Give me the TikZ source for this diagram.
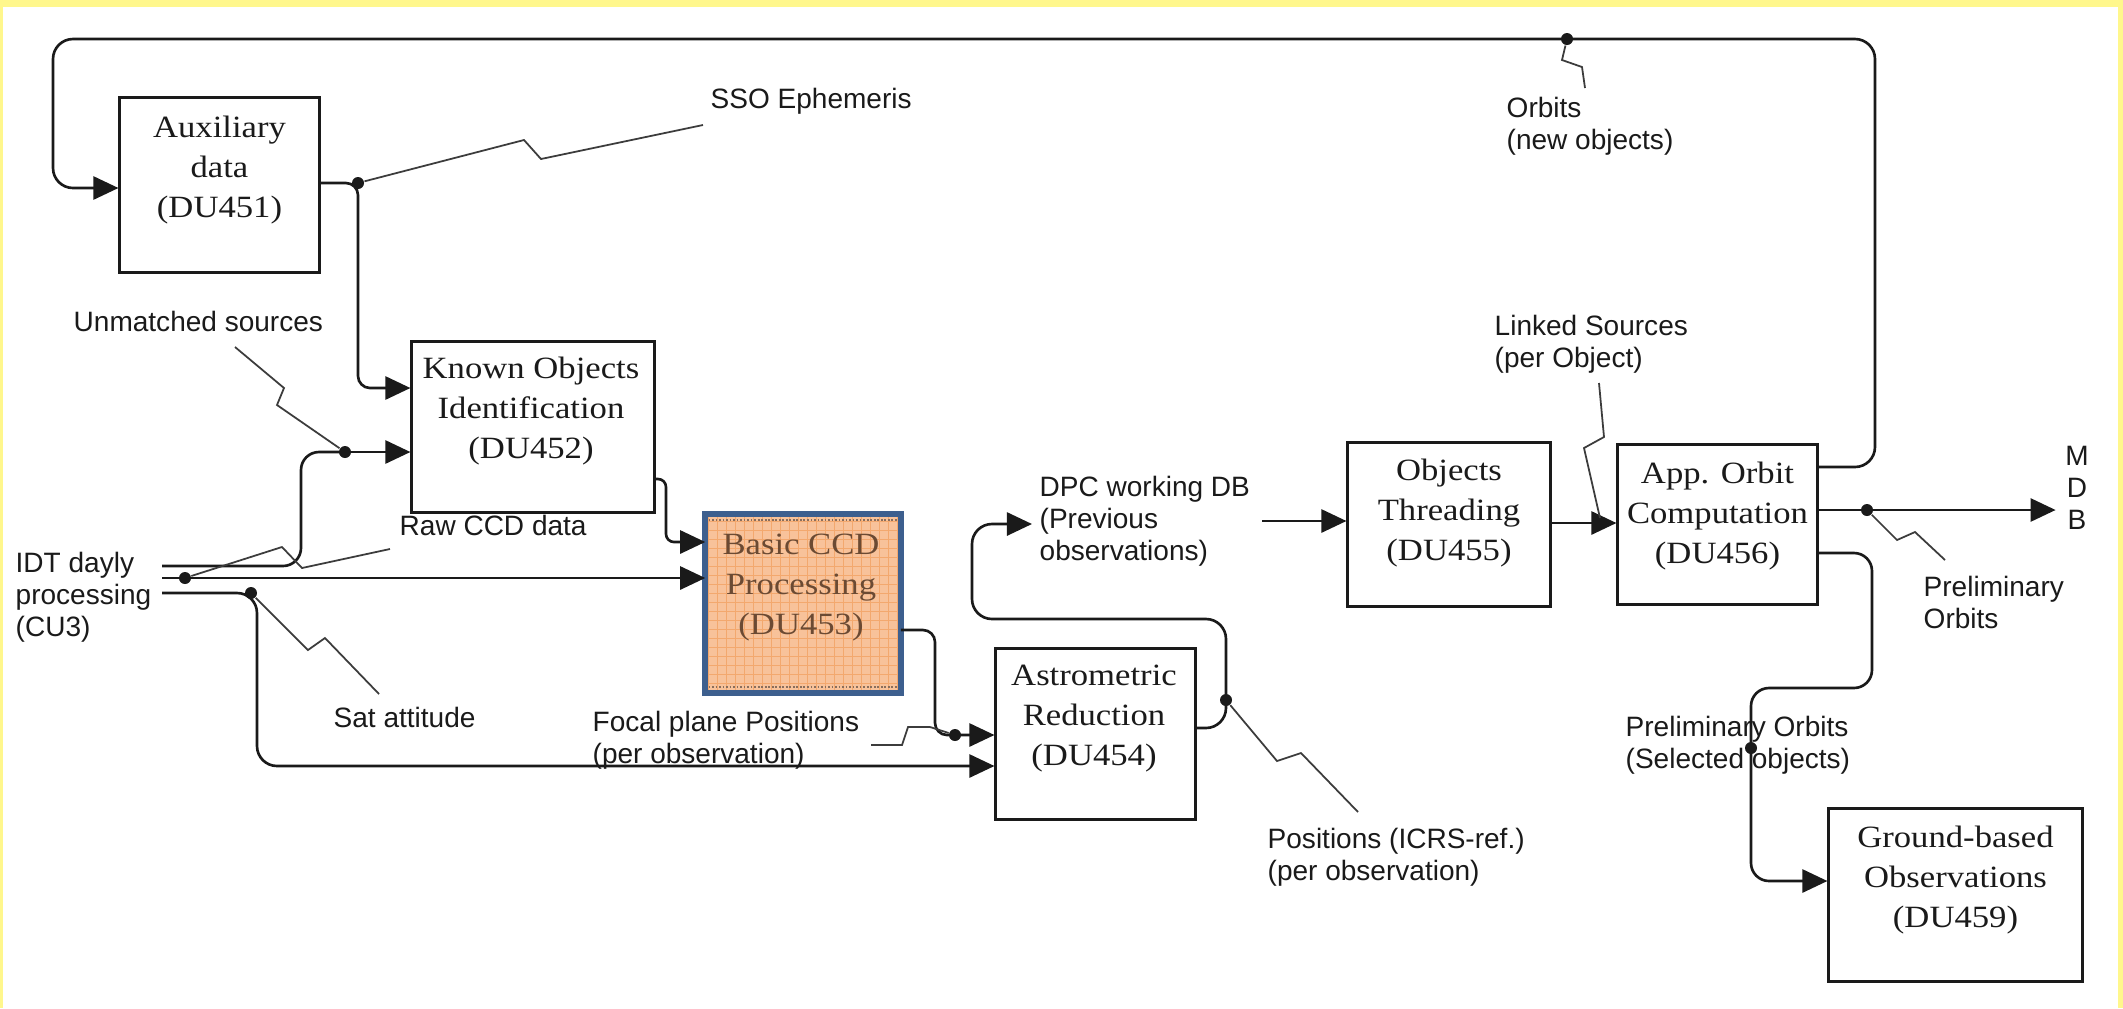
\documentclass[tikz,border=0pt]{standalone}
\usepackage{fontspec}
\setmainfont{Liberation Serif}[FakeStretch=1.12]
\newfontfamily\lblfont{Liberation Sans}
\usetikzlibrary{arrows.meta}

\definecolor{ink}{HTML}{1A1A1A}
\definecolor{ccdfill}{HTML}{F8C29A}
\definecolor{ccdgrid}{HTML}{F3A86E}
\definecolor{ccdedge}{HTML}{3D5F8E}
\definecolor{ccdtext}{HTML}{6B4A33}
\definecolor{rim}{HTML}{FFF78C}

\begin{document}
\begin{tikzpicture}[x=0.01cm,y=-0.01cm,
  unit/.style={draw=ink, line width=0.85pt, fill=white, inner sep=0pt},
  unittext/.style={font=\fontsize{8.8}{11.38}\selectfont, align=center, inner sep=0pt, text=ink},
  lbl/.style={font=\lblfont\fontsize{7.97}{9.1}\selectfont, align=left, inner sep=0pt, anchor=west, text=ink},
  flow/.style={draw=ink, line width=0.75pt, -{Triangle[length=0.25cm,width=0.23cm]}},
  wire/.style={draw=ink, line width=0.75pt},
  bolt/.style={draw=ink!85, line width=0.5pt},
  joint/.style={circle, fill=ink, inner sep=0pt, minimum size=0.12cm},
]
% page, with its thin yellow rim
\fill[white] (0,0) rectangle (2123,1008);
\fill[rim] (0,0) rectangle (2123,7);
\fill[rim] (0,0) rectangle (3,1008);
\fill[rim] (2118,0) rectangle (2123,1008);
\useasboundingbox (0,0) rectangle (2123,1008);

% processing units
\node[unit, minimum width=1.99cm, minimum height=1.74cm] (aux) at (219.5,185) {};
\node[unit, minimum width=2.42cm, minimum height=1.70cm] (known) at (533,427) {};
\node[inner sep=0pt, minimum width=1.94cm, minimum height=1.77cm] (basic) at (803,603.5) {};
\node[unit, minimum width=1.99cm, minimum height=1.70cm] (astro) at (1095.5,734) {};
\node[unit, minimum width=2.02cm, minimum height=1.63cm] (thread) at (1449,524.5) {};
\node[unit, minimum width=1.99cm, minimum height=1.59cm] (orbit) at (1717.5,524.5) {};
\node[unit, minimum width=2.53cm, minimum height=1.72cm] (ground) at (1955.5,895) {};

% highlighted unit: orange grid fill, blue edge
\fill[ccdfill] (basic.south west) rectangle (basic.north east);
\begin{scope}
  \clip (basic.south west) rectangle (basic.north east);
  \foreach \gx in {708,717,...,900} \draw[ccdgrid, line width=0.25pt] (\gx,513) -- (\gx,695);
  \foreach \gy in {521,530,...,690} \draw[ccdgrid, line width=0.25pt] (705,\gy) -- (903,\gy);
  \draw[ccdtext!80, line width=0.7pt, dash pattern=on 0.5pt off 0.5pt] (705,520) -- (903,520);
  \draw[ccdtext!80, line width=0.7pt, dash pattern=on 0.5pt off 0.5pt] (705,687) -- (903,687);
\end{scope}
\draw[ccdedge, line width=1.7pt] (basic.south west) rectangle (basic.north east);

% unit captions
\node[unittext] (auxT) at (219.5,170) {Auxiliary\\data\\(DU451)};
\node[unittext] (knownT) at (531,411) {Known Objects\\Identification\\(DU452)};
\node[unittext, text=ccdtext] (basicT) at (801,588) {Basic CCD\\Processing\\(DU453)};
\node[unittext] (astroT) at (1094,719) {Astrometric\\Reduction\\(DU454)};
\node[unittext] (threadT) at (1449,513) {Objects\\Threading\\(DU455)};
\node[unittext] (orbitT) at (1717.5,516) {App. Orbit\\Computation\\(DU456)};
\node[unittext] (groundT) at (1955.5,880) {Ground-based\\Observations\\(DU459)};

% data labels
\node[lbl] (sso) at (710,101) {SSO Ephemeris};
\node[lbl] (unm) at (73,321) {Unmatched sources};
\node[lbl] (raw) at (399,525) {Raw CCD data};
\node[lbl] (idt) at (15,597) {IDT dayly\\processing\\(CU3)};
\node[lbl] (sat) at (333,717) {Sat attitude};
\node[lbl] (focal) at (592,740) {Focal plane Positions\\(per observation)};
\node[lbl] (dpc) at (1039,521) {DPC working DB\\(Previous\\observations)};
\node[lbl] (icrs) at (1267,857) {Positions (ICRS-ref.)\\(per observation)};
\node[lbl] (newob) at (1506,126) {Orbits\\(new objects)};
\node[lbl] (linked) at (1494,344) {Linked Sources\\(per Object)};
\node[lbl] (prelim) at (1923,602) {Preliminary\\Orbits};
\node[lbl] (selected) at (1625,745) {Preliminary Orbits\\(Selected objects)};
\node[lbl, anchor=center, align=center] (mdb) at (2077,488) {M\\D\\B};

% junction dots
\node[joint] (jA) at (358,183) {};
\node[joint] (jU) at (345,452) {};
\node[joint] (jR) at (185,578) {};
\node[joint] (jS) at (251,593) {};
\node[joint] (jF) at (955,735) {};
\node[joint] (jP) at (1226,700) {};
\node[joint] (jO) at (1567,39) {};
\node[joint] (jM) at (1867,510) {};
\node[joint] (jG) at (1751,748) {};

% loose line ends
\coordinate (idt1) at (162,566);
\coordinate (idt2) at (162,578);
\coordinate (idt3) at (162,593);
\coordinate (dpcout) at (1262,521);

% data flows
\draw[flow, rounded corners=0.2cm] (orbit.east |- 0,467) -- (1875,467) -- (1875,39) -- (53,39) -- (53,188) -- (aux.west |- 0,188);
\draw[flow, rounded corners=0.12cm] (aux.east |- 0,183) -- (jA.center) -- (358,388) -- (known.west |- 0,388);
\draw[flow] (jU.center) -- (known.west |- 0,452);
\draw[wire, rounded corners=0.18cm] (idt1) -- (301,566) -- (301,452) -- (jU.center);
\draw[flow] (idt2) -- (basic.west |- 0,578);
\draw[flow, rounded corners=0.2cm] (idt3) -- (257,593) -- (257,766) -- (astro.west |- 0,766);
\draw[flow, rounded corners=0.08cm] (known.east |- 0,479) -- (666,479) -- (666,542) -- (basic.west |- 0,542);
\draw[flow, rounded corners=0.12cm] (basic.east |- 0,630) -- (935,630) -- (935,735) -- (astro.west |- 0,735);
\draw[flow, rounded corners=0.2cm, shorten >=0.07cm] (astro.east |- 0,728) -- (1226,728) -- (1226,619) -- (972,619) -- (972,524) -- (dpc.west |- 0,524);
\draw[flow] (dpcout) -- (thread.west |- 0,521);
\draw[flow] (thread.east |- 0,523) -- (orbit.west |- 0,523);
\draw[flow, shorten >=0.09cm] (orbit.east |- 0,510) -- (mdb.west |- 0,510);
\draw[flow, rounded corners=0.18cm] (orbit.east |- 0,553) -- (1872,553) -- (1872,688) -- (1751,688) -- (1751,881) -- (ground.west |- 0,881);

% label leaders
\draw[bolt] (jA) -- (524,140) -- (541,159) -- (703,125);
\draw[bolt] (235,347) -- (284,388) -- (277,405) -- (jU);
\draw[bolt] (jR) -- (282,547) -- (302,568) -- (390,549);
\draw[bolt] (jS) -- (308,650) -- (325,638) -- (379,694);
\draw[bolt] (871,745) -- (902,745) -- (908,727) -- (930,727) -- (jF);
\draw[bolt] (jP) -- (1277,761) -- (1301,753) -- (1358,812);
\draw[bolt] (jO) -- (1562,60) -- (1582,67) -- (1585,88);
\draw[bolt] (1599,383) -- (1604,437) -- (1584,448) -- (1600,518);
\draw[bolt] (jM) -- (1897,540) -- (1915,532) -- (1945,560);
\end{tikzpicture}
\end{document}
